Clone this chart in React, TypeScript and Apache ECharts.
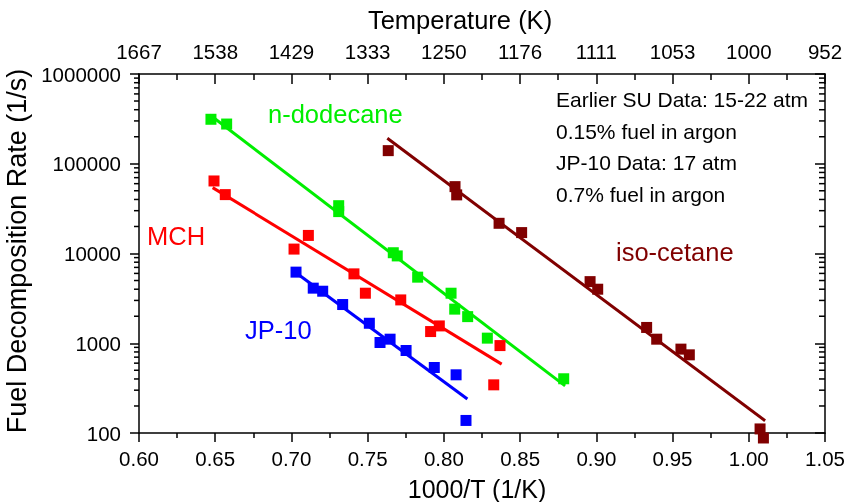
import React, { useEffect, useRef } from "react";
import * as echarts from "echarts";

const xTickLabels = ["0.60", "0.65", "0.70", "0.75", "0.80", "0.85", "0.90", "0.95", "1.00", "1.05"];
const tempLabels = ["1667", "1538", "1429", "1333", "1250", "1176", "1111", "1053", "1000", "952"];
const yMajorTicks = [100, 1000, 10000, 100000, 1000000];
const yTickLabels = ["100", "1000", "10000", "100000", "1000000"];
const yMinorTicks = [
  200, 300, 400, 500, 600, 700, 800, 900,
  2000, 3000, 4000, 5000, 6000, 7000, 8000, 9000,
  20000, 30000, 40000, 50000, 60000, 70000, 80000, 90000,
  200000, 300000, 400000, 500000, 600000, 700000, 800000, 900000,
];

const dodecanePts: [number, number][] = [
  [0.6472, 313000], [0.6575, 277000], [0.731, 34100], [0.731, 29300],
  [0.7668, 10200], [0.7694, 9400], [0.7828, 5450], [0.8047, 3610],
  [0.8071, 2400], [0.8156, 1980], [0.8285, 1140], [0.8786, 402],
];
const dodecaneFit: [number, number][] = [[0.6466, 349000], [0.8795, 335]];

const mchPts: [number, number][] = [
  [0.6492, 64300], [0.6566, 45300], [0.7017, 11200], [0.7111, 15900],
  [0.741, 5930], [0.7485, 3610], [0.7717, 3040], [0.7913, 1350],
  [0.797, 1560], [0.8368, 942], [0.8327, 344],
];
const mchFit: [number, number][] = [[0.6483, 54200], [0.8379, 585]];

const jp10Pts: [number, number][] = [
  [0.703, 6200], [0.7143, 4110], [0.7205, 3800], [0.7336, 2700],
  [0.7511, 1670], [0.7581, 1020], [0.7647, 1110], [0.7752, 830],
  [0.7937, 537], [0.808, 445], [0.8145, 138],
];
const jp10Fit: [number, number][] = [[0.7034, 6030], [0.8154, 239]];

const isoPts: [number, number][] = [
  [0.7635, 140000], [0.8073, 55600], [0.8084, 45000], [0.8362, 21700],
  [0.851, 17100], [0.8959, 4860], [0.9009, 4000], [0.933, 1500],
  [0.9396, 1110], [0.9555, 860], [0.961, 743], [1.0074, 111], [1.0096, 88],
];
const isoFit: [number, number][] = [[0.7629, 192000], [1.0107, 137]];

const notes = [
  "Earlier SU Data: 15-22 atm",
  "0.15% fuel in argon",
  "JP-10 Data: 17 atm",
  "0.7% fuel in argon",
];

const GREEN = "#00ee00";
const RED = "#ff0000";
const BLUE = "#0000ff";
const DARK = "#800000";
const FONT = "Liberation Sans, Arial, sans-serif";

export default function App() {
  const ref = useRef<HTMLDivElement>(null);
  useEffect(() => {
    document.body.style.margin = "0";
    const chart = echarts.init(ref.current!, null, { renderer: "svg" });
    const X_MIN = 0.6;
    const X_MAX = 1.05;
    const axisLine = { show: true, lineStyle: { color: "#000", width: 1.5 } };
    const scatter = (name: string, data: [number, number][], color: string, clip = true) => ({
      name,
      type: "scatter",
      data,
      symbol: "rect",
      symbolSize: 11,
      itemStyle: { color, opacity: 1 },
      clip,
      z: 3,
    });
    const fit = (name: string, data: [number, number][], color: string) => ({
      name,
      type: "line",
      data,
      symbol: "none",
      lineStyle: { color, width: 3 },
      z: 2,
    });
    const yLabel = (v: number) => {
      const i = yMajorTicks.findIndex((t) => Math.abs(Math.log10(t) - Math.log10(v)) < 1e-6);
      return i >= 0 ? yTickLabels[i] : "";
    };
    const option: any = {
      animation: false,
      textStyle: { fontFamily: FONT },
      grid: { left: 139, right: 23, top: 74, bottom: 69, containLabel: false, outerBoundsMode: "none" },
      xAxis: [
        {
          type: "value",
          position: "bottom",
          min: X_MIN,
          max: X_MAX,
          interval: 0.05,
          axisLine,
          axisTick: { show: true, inside: false, length: 9, lineStyle: { color: "#000", width: 1.5 } },
          minorTick: { show: true, splitNumber: 2, length: 5, lineStyle: { color: "#000", width: 1.5 } },
          splitLine: { show: false },
          axisLabel: {
            fontSize: 20.5,
            color: "#000",
            fontFamily: FONT,
            margin: 15,
            formatter: (_v: number, i: number) => xTickLabels[i],
          },
          name: "1000/T (1/K)",
          nameLocation: "middle",
          nameGap: 43,
          nameTextStyle: { fontSize: 25, color: "#000", fontFamily: FONT, padding: [0, 10, 0, 0] },
        },
        {
          type: "value",
          position: "top",
          min: X_MIN,
          max: X_MAX,
          interval: 0.05,
          axisLine,
          axisTick: { show: true, inside: true, length: 10, lineStyle: { color: "#000", width: 1.5 } },
          minorTick: { show: true, splitNumber: 2, length: 6, lineStyle: { color: "#000", width: 1.5 } },
          splitLine: { show: false },
          axisLabel: {
            fontSize: 20.5,
            color: "#000",
            fontFamily: FONT,
            margin: 12,
            formatter: (_v: number, i: number) => tempLabels[i],
          },
          name: "Temperature (K)",
          nameLocation: "middle",
          nameGap: 41,
          nameTextStyle: { fontSize: 25.5, color: "#000", fontFamily: FONT, padding: [0, 44, 0, 0] },
        },
      ],
      yAxis: [
        {
          type: "log",
          logBase: 10,
          position: "left",
          min: yMajorTicks[0],
          max: yMajorTicks[yMajorTicks.length - 1],
          axisLine,
          axisTick: { show: true, inside: false, length: 9, lineStyle: { color: "#000", width: 1.5 } },
          splitLine: { show: false },
          axisLabel: { fontSize: 20.5, color: "#000", fontFamily: FONT, margin: 18, formatter: yLabel },
          name: "Fuel Decomposition Rate (1/s)",
          nameLocation: "middle",
          nameRotate: 90,
          nameGap: 101,
          nameTextStyle: { fontSize: 27, color: "#000", fontFamily: FONT, padding: [0, 0, 0, 5] },
        },
        {
          type: "log",
          logBase: 10,
          position: "right",
          min: yMajorTicks[0],
          max: yMajorTicks[yMajorTicks.length - 1],
          axisLine,
          axisTick: { show: true, inside: true, length: 10, lineStyle: { color: "#000", width: 1.5 } },
          splitLine: { show: false },
          axisLabel: { show: false },
        },
      ],
      series: [
        {
          type: "custom",
          silent: true,
          clip: false,
          data: yMinorTicks.map((v) => [v]),
          xAxisIndex: 0,
          yAxisIndex: 0,
          encode: { y: 0 },
          renderItem: (_params: any, api: any) => {
            const v = api.value(0);
            const l = api.coord([X_MIN, v]);
            const r = api.coord([X_MAX, v]);
            const style = { stroke: "#000", lineWidth: 1.5 };
            return {
              type: "group",
              children: [
                { type: "line", shape: { x1: l[0] - 5, y1: l[1], x2: l[0], y2: l[1] }, style },
                { type: "line", shape: { x1: r[0] - 6, y1: r[1], x2: r[0], y2: r[1] }, style },
              ],
            };
          },
        },
        fit("n-dodecane fit", dodecaneFit, GREEN),
        fit("MCH fit", mchFit, RED),
        fit("JP-10 fit", jp10Fit, BLUE),
        fit("iso-cetane fit", isoFit, DARK),
        scatter("n-dodecane", dodecanePts, GREEN),
        scatter("MCH", mchPts, RED),
        scatter("JP-10", jp10Pts, BLUE),
        scatter("iso-cetane", isoPts, DARK, false),
      ],
      graphic: [
        { type: "text", left: 268, top: 101, style: { text: "n-dodecane", fontSize: 25.5, fill: GREEN, fontFamily: FONT } },
        { type: "text", left: 147, top: 223, style: { text: "MCH", fontSize: 25.5, fill: RED, fontFamily: FONT } },
        { type: "text", left: 245, top: 317, style: { text: "JP-10", fontSize: 25.5, fill: BLUE, fontFamily: FONT } },
        { type: "text", left: 616, top: 239, style: { text: "iso-cetane", fontSize: 25.5, fill: DARK, fontFamily: FONT } },
        ...notes.map((t, i) => ({
          type: "text",
          left: 556,
          top: 89 + i * 31.5,
          style: { text: t, fontSize: 21, fill: "#000", fontFamily: FONT },
        })),
      ],
    };
    chart.setOption(option);
    return () => chart.dispose();
  }, []);
  return (
    <div
      ref={ref}
      style={{ position: "fixed", left: 0, top: 0, width: 848, height: 502 }}
    />
  );
}
